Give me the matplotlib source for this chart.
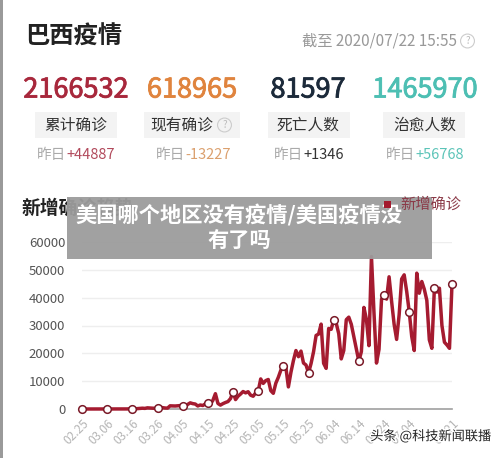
import numpy as np
import pandas as pd
import matplotlib
matplotlib.use('Agg')
import matplotlib.pyplot as plt
from matplotlib.patches import Rectangle
import matplotlib.patheffects as pe

plt.rcParams['font.family'] = ['Noto Sans CJK SC', 'DejaVu Sans']

# 每日新增确诊 (2020-02-25 ~ 2020-07-21)
feb_cases = [0, 1, 0, 0, 1]
mar_cases = [0, 0, 0, 2, 4, 5, 6, 5, 6, 9,
             18, 25, 21, 23, 79, 34, 57, 137, 193, 283,
             224, 418, 345, 310, 232, 300, 502, 487, 352, 323, 1138]
apr_cases = [1119, 1074, 1146, 1222, 1100, 926, 1661, 2210, 1930, 1781,
             1089, 1442, 1261, 1832, 2300, 1800, 3100, 5500, 2000, 1400,
             1927, 2336, 2678, 3735, 6100, 3379, 4613, 5385, 6276, 5800]
may_cases = [6209, 4970, 4588, 5800, 6400, 10800, 9200, 10200, 10600, 6600,
             5632, 9258, 11385, 13944, 15500, 14919, 7938, 13140, 17408, 21000,
             18800, 20800, 16508, 15813, 13000, 16324, 20599, 26417, 26928, 30500, 16409]
jun_cases = [14600, 28936, 28633, 32000, 30830, 27075, 18000, 21000, 32091, 33000,
             30412, 25982, 21704, 17110, 20647, 36500, 32188, 22765, 54771, 34666,
             16500, 21432, 39436, 41000, 39483, 47500, 38693, 30476, 25000, 33846]
jul_cases = [46712, 48200, 42223, 35000, 26051, 21000, 48800, 41600, 45800, 43000,
             39023, 24831, 21800, 43400, 42000, 43400, 30000, 24000, 23000, 21800, 44887]

new_cases = feb_cases + mar_cases + apr_cases + may_cases + jun_cases + jul_cases
dates = pd.date_range('2020-02-25', '2020-07-21')

tick_labels = ['02.25', '03.06', '03.16', '03.26', '04.05', '04.15', '04.25', '05.05',
               '05.15', '05.25', '06.04', '06.14', '06.24', '07.04', '07.21']
marker_labels = tick_labels[:-1] + ['07.14', '07.21']

# 顶部统计
stat_values = ['2166532', '618965', '81597', '1465970']
stat_names = ['累计确诊', '现有确诊', '死亡人数', '治愈人数']
stat_delta = ['+44887', '-13227', '+1346', '+56768']
stat_colors = ['#a8283c', '#e0843e', '#1c2a3a', '#4dbfb3']
delta_colors = ['#b24a5c', '#dba06e', '#333333', '#5cc4b8']

W, H = 500, 458
fig = plt.figure(figsize=(W / 100, H / 100), dpi=100)
fig.patch.set_facecolor('white')


def px(x, y):
    return x / W, 1 - y / H


# 左侧边框
fig.add_artist(Rectangle(px(0, H), 3 / W, 1, transform=fig.transFigure, color='#9a9a9a', lw=0))

fig.text(*px(25, 37), '巴西疫情', fontsize=17.5, fontweight='bold', color='#222222', va='center')
fig.text(*px(457, 41), '截至 2020/07/22 15:55', fontsize=11, color='#999999', va='center', ha='right')
fig.text(*px(467.5, 41), '?', fontsize=7, color='#bbbbbb', va='center', ha='center',
         bbox=dict(boxstyle='circle,pad=0.2', fc='none', ec='#cccccc', lw=0.8))

centers = [76, 192, 308, 425]
box_spans = [(35, 117), (144, 240), (268, 350), (383, 465)]
splits = [66, 185, 303, 415]
for i in range(4):
    fig.text(*px(centers[i], 90), stat_values[i], fontsize=19.5, color=stat_colors[i],
             ha='center', va='center',
             path_effects=[pe.withStroke(linewidth=0.6, foreground=stat_colors[i])])
    x0, x1 = box_spans[i]
    fig.add_artist(Rectangle(px(x0, 138), (x1 - x0) / W, 26 / H, transform=fig.transFigure,
                             color='#f3f3f3', lw=0))
    if i == 1:
        fig.text(*px(182, 125), stat_names[i], fontsize=11.3, color='#333333', ha='center', va='center')
        fig.text(*px(224.5, 125), '?', fontsize=7, color='#bbbbbb', va='center', ha='center',
                 bbox=dict(boxstyle='circle,pad=0.2', fc='none', ec='#cccccc', lw=0.8))
    else:
        fig.text(*px(centers[i], 125), stat_names[i], fontsize=11.3, color='#333333',
                 ha='center', va='center')
    fig.text(*px(splits[i], 155), '昨日', fontsize=10.5, color='#aaaaaa', ha='right', va='center')
    fig.text(*px(splits[i], 155), stat_delta[i], fontsize=10.5, color=delta_colors[i],
             ha='left', va='center')

# 折线图
ax = fig.add_axes([82 / W, 1 - 409 / H, 370 / W, 167 / H])
x = np.arange(len(new_cases))
mark_idx = [int((pd.Timestamp('2020-' + m.replace('.', '-')) - dates[0]).days) for m in marker_labels]
ax.plot(x, new_cases, color='#a51b30', lw=2.5, solid_joinstyle='round', zorder=3,
        marker='o', markevery=mark_idx, markersize=5.5, markerfacecolor='white',
        markeredgecolor='#7a1a28', markeredgewidth=1.1, clip_on=False)
ax.set_xlim(0, len(new_cases) - 1)
ax.set_ylim(0, 60000)
ax.set_yticks(range(0, 60001, 10000))
ax.set_yticklabels([str(v) for v in range(0, 60001, 10000)], fontsize=9.5, color='#555555')
tick_idx = [int((pd.Timestamp('2020-' + m.replace('.', '-')) - dates[0]).days) for m in tick_labels]
ax.set_xticks(tick_idx)
ax.set_xticklabels(tick_labels, rotation=45, ha='right', va='top', rotation_mode='anchor',
                   fontsize=8.5, color='#b5b5b5')
ax.tick_params(length=0, axis='y', pad=12)
ax.tick_params(length=0, axis='x', pad=6)
ax.grid(axis='y', color='#eeeeee', lw=1)
ax.set_axisbelow(True)
for s in ['top', 'right', 'left']:
    ax.spines[s].set_visible(False)
ax.spines['bottom'].set_color('#a0a0a0')
ax.spines['bottom'].set_linewidth(1.2)

fig.text(*px(22, 208), '新增确诊趋势', fontsize=13.5, fontweight='bold', color='#222222', va='center')
fig.add_artist(Rectangle(px(384, 208), 7 / W, 7 / H, transform=fig.transFigure, color='#a31a2e',
                         lw=0, zorder=12))
fig.text(*px(400, 204), '新增确诊', fontsize=11, color='#8b3a48', va='center', zorder=12)

# 标题遮罩
fig.add_artist(Rectangle(px(67, 259), 365 / W, 62 / H, transform=fig.transFigure,
                         color='#9c9c9c', alpha=0.95, lw=0, zorder=10))
fig.text(*px(239, 215), '美国哪个地区没有疫情/美国疫情没', fontsize=15.3, fontweight='bold',
         color='white', ha='center', va='center', zorder=11)
fig.text(*px(239, 240), '有了吗', fontsize=15.3, fontweight='bold',
         color='white', ha='center', va='center', zorder=11)

fig.text(*px(431, 436), '头条 @科技新闻联播', fontsize=9.5, color='#222222', ha='center', va='center',
         zorder=11, path_effects=[pe.withStroke(linewidth=2, foreground='white')])

fig.savefig('out.png', dpi=100)
